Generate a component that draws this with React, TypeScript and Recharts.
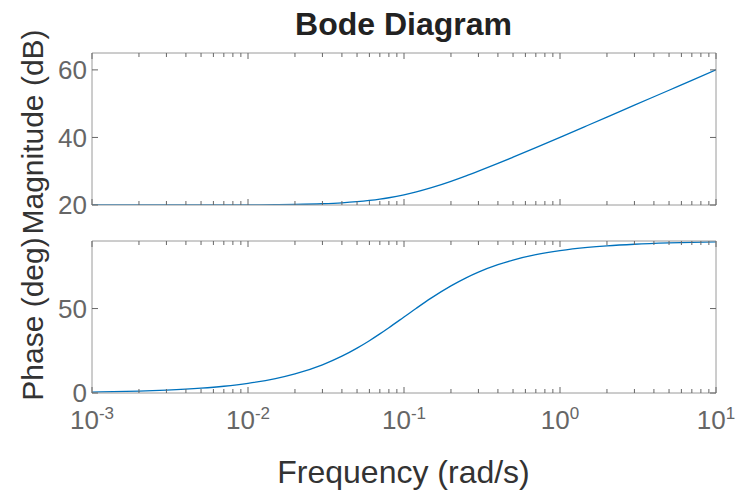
import React from "react";
import { LineChart, Line, XAxis, YAxis } from "recharts";

// frequency grid (rad/s)
const freq = [
  0.001, 0.002, 0.003, 0.005, 0.007, 0.01, 0.015, 0.02, 0.03, 0.04, 0.05, 0.06,
  0.07, 0.08, 0.1, 0.12, 0.15, 0.2, 0.25, 0.3, 0.4, 0.5, 0.7, 1, 1.5, 2, 3, 5, 7, 10,
];

// magnitude (dB)
const magnitude = [
  20.0, 20.0, 20.0, 20.01, 20.02, 20.04, 20.1, 20.17, 20.37, 20.64, 20.97, 21.34,
  21.73, 22.15, 23.01, 23.87, 25.12, 26.99, 28.6, 30.0, 32.3, 34.15, 36.99, 40.04,
  43.54, 46.03, 49.55, 53.98, 56.9, 60.0,
];

// phase (deg)
const phase = [
  0.57, 1.15, 1.72, 2.86, 4.0, 5.71, 8.53, 11.31, 16.7, 21.8, 26.57, 30.96, 34.99,
  38.66, 45.0, 50.19, 56.31, 63.43, 68.2, 71.57, 75.96, 78.69, 81.87, 84.29, 86.19,
  87.14, 88.09, 88.85, 89.18, 89.43,
];

const xMajor = [0.001, 0.01, 0.1, 1, 10];
const xExponents = ["-3", "-2", "-1", "0", "1"];
const magTicks = [20, 40, 60];
const phaseTicks = [0, 50];

const xTicks: number[] = [];
xMajor.forEach((d, i) => {
  xTicks.push(d);
  if (i < xMajor.length - 1) for (let k = 2; k <= 9; k++) xTicks.push(+(d * k).toPrecision(3));
});

const magData = freq.map((w, i) => ({ w, v: magnitude[i] }));
const phaseData = freq.map((w, i) => ({ w, v: phase[i] }));

const FONT = "'Liberation Sans', Arial, Helvetica, sans-serif";
const BOX = "#9a9a9a";
const TICK = "#666";
const LABEL = "#666";
const LINE = "#0072BD";

const isMajor = (v: number) => Math.abs(Math.log10(v) - Math.round(Math.log10(v))) < 1e-6;

const xTick = (dir: 1 | -1, labels: boolean) => (props: any) => {
  const { x, y, payload } = props;
  const v = payload.value;
  const major = isMajor(v);
  const len = major ? 6 : 4;
  const idx = xMajor.findIndex((m) => Math.abs(m - v) < 1e-9);
  return (
    <g>
      <line x1={x} y1={y} x2={x} y2={y + dir * len} stroke={TICK} strokeWidth={1} />
      {labels && idx >= 0 && (
        <text x={x} y={y + 36} textAnchor="middle" fill={LABEL} fontFamily={FONT}>
          <tspan fontSize={26}>10</tspan>
          <tspan fontSize={17} dy={-10}>{xExponents[idx]}</tspan>
        </text>
      )}
    </g>
  );
};

const yTick = (dir: 1 | -1, labels: boolean) => (props: any) => {
  const { x, y, payload } = props;
  return (
    <g>
      <line x1={x} y1={y} x2={x + dir * 6} y2={y} stroke={TICK} strokeWidth={1} />
      {labels && (
        <text x={x - 5} y={y} dy="0.35em" textAnchor="end" fontSize={26} fill={LABEL} fontFamily={FONT}>
          {payload.value}
        </text>
      )}
    </g>
  );
};

type PanelProps = {
  data: { w: number; v: number }[];
  yDomain: [number, number];
  yTicks: number[];
  height: number;
  top: number;
  bottomAxisHeight: number;
  marginTop: number;
  marginBottom: number;
  xLabels: boolean;
};

const Panel: React.FC<PanelProps> = ({ data, yDomain, yTicks, height, top, bottomAxisHeight, marginTop, marginBottom, xLabels }) => (
  <div style={{ position: "absolute", left: 0, top }}>
    <LineChart width={739} height={height} data={data} margin={{ top: marginTop, right: 22, bottom: marginBottom, left: 62 }}>
      <XAxis
        dataKey="w"
        type="number"
        scale="log"
        domain={[0.001, 10]}
        allowDataOverflow
        ticks={xTicks}
        interval={0}
        height={bottomAxisHeight}
        tickSize={0}
        tickMargin={0}
        tickLine={false}
        axisLine={{ stroke: BOX }}
        tick={xTick(-1, xLabels)}
      />
      <XAxis
        xAxisId="top"
        orientation="top"
        dataKey="w"
        type="number"
        scale="log"
        domain={[0.001, 10]}
        allowDataOverflow
        ticks={xTicks}
        interval={0}
        height={1}
        tickSize={0}
        tickMargin={0}
        tickLine={false}
        axisLine={{ stroke: BOX }}
        tick={xTick(1, false)}
      />
      <YAxis
        type="number"
        domain={yDomain}
        allowDataOverflow
        ticks={yTicks}
        interval={0}
        width={30}
        tickSize={0}
        tickMargin={0}
        tickLine={false}
        axisLine={{ stroke: BOX }}
        tick={yTick(1, true)}
      />
      <YAxis
        yAxisId="right"
        orientation="right"
        type="number"
        domain={yDomain}
        allowDataOverflow
        ticks={yTicks}
        interval={0}
        width={1}
        tickSize={0}
        tickMargin={0}
        tickLine={false}
        axisLine={{ stroke: BOX }}
        tick={yTick(-1, false)}
      />
      <Line dataKey="v" type="monotone" stroke={LINE} strokeWidth={1.3} dot={false} isAnimationActive={false} />
    </LineChart>
  </div>
);

const App: React.FC = () => (
  <div style={{ position: "absolute", left: 0, top: 0, width: 739, height: 490, background: "#fff" }}>
    <Panel data={magData} yDomain={[20, 65]} yTicks={magTicks} height={230} top={0} bottomAxisHeight={1} marginTop={52} marginBottom={24} xLabels={false} />
    <Panel data={phaseData} yDomain={[0, 90]} yTicks={phaseTicks} height={260} top={230} bottomAxisHeight={40} marginTop={10} marginBottom={57} xLabels />
    <svg width={739} height={490} style={{ position: "absolute", left: 0, top: 0, pointerEvents: "none" }}>
      <text x={403.5} y={35} textAnchor="middle" fontSize={32} fontWeight="bold" fill="#222" fontFamily={FONT}>
        Bode Diagram
      </text>
      <text transform="translate(43,132) rotate(-90)" textAnchor="middle" fontSize={30} fill="#333" fontFamily={FONT}>
        Magnitude (dB)
      </text>
      <text transform="translate(43,319) rotate(-90)" textAnchor="middle" fontSize={30} fill="#333" fontFamily={FONT}>
        Phase (deg)
      </text>
      <text x={403.5} y={483} textAnchor="middle" fontSize={32} fill="#333" fontFamily={FONT}>
        Frequency (rad/s)
      </text>
    </svg>
  </div>
);

export default App;
